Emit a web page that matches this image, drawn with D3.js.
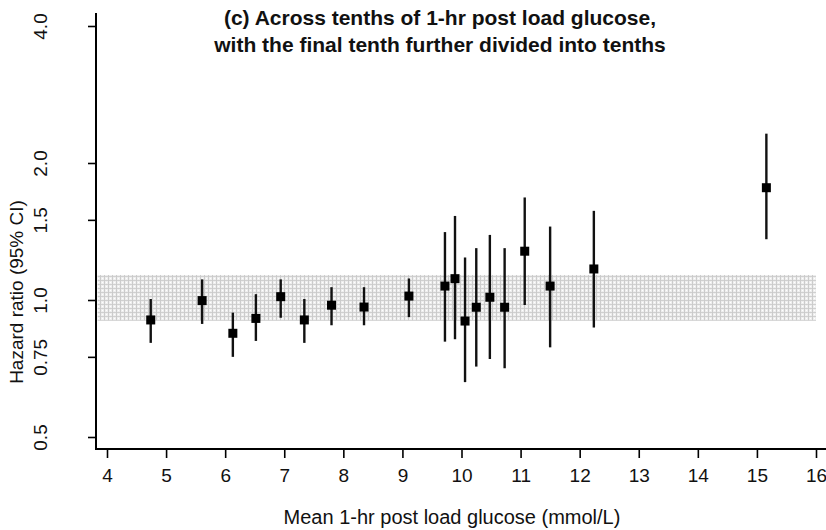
<!DOCTYPE html>
<html>
<head>
<meta charset="utf-8">
<script src="https://cdn.jsdelivr.net/npm/d3@7"></script>
<style>
  body { margin: 0; background: #fff; }
  svg text { font-family: "Liberation Sans", Arial, sans-serif; fill: #111; }
</style>
</head>
<body>
<svg id="chart" width="826" height="530"></svg>
<script>
"use strict";

// mean 1-hr glucose per group (mmol/L)
const glucose = [4.74, 5.61, 6.13, 6.52, 6.94, 7.34, 7.80, 8.35, 9.11,
                 9.72, 9.89, 10.06, 10.25, 10.48, 10.73, 11.07, 11.50, 12.24, 15.16];
const hazard  = [0.904, 0.997, 0.845, 0.911, 1.017, 0.904, 0.974, 0.965, 1.02,
                 1.073, 1.114, 0.899, 0.964, 1.014, 0.964, 1.28, 1.073, 1.17, 1.765];
const ciLow   = [0.805, 0.886, 0.75, 0.813, 0.914, 0.805, 0.88, 0.88, 0.917,
                 0.81, 0.82, 0.66, 0.714, 0.742, 0.708, 0.975, 0.787, 0.87, 1.36];
const ciHigh  = [1.005, 1.11, 0.938, 1.03, 1.11, 1.005, 1.067, 1.067, 1.115,
                 1.41, 1.53, 1.24, 1.30, 1.39, 1.30, 1.68, 1.45, 1.57, 2.32];

const xTicks = [4, 5, 6, 7, 8, 9, 10, 11, 12, 13, 14, 15, 16];
const yTicks = [0.5, 0.75, 1.0, 1.5, 2.0, 4.0];
const yTickLabels = ["0.5", "0.75", "1.0", "1.5", "2.0", "4.0"];

// shaded reference band
const bandHR = [0.90, 1.135];
const bandX = [3.84, 16.0];

const titleLines = ["(c) Across tenths of 1-hr post load glucose,",
                    "with the final tenth further divided into tenths"];

let svg = d3.select("#chart");

let x = d3.scaleLinear().domain([4, 16]).range([107, 816]);
let y = d3.scaleLog().domain([0.5, 4]).range([437, 26]);

// dotted grey texture for the band
let defs = svg.append("defs");
let pat = defs.append("pattern")
    .attr("id", "dots")
    .attr("patternUnits", "userSpaceOnUse")
    .attr("width", 4)
    .attr("height", 4);
pat.append("rect").attr("width", 4).attr("height", 4).attr("fill", "#eeeeee");
pat.append("rect").attr("x", 0).attr("y", 0).attr("width", 4).attr("height", 1).attr("fill", "#d0d0d0");
pat.append("rect").attr("x", 0).attr("y", 0).attr("width", 1).attr("height", 4).attr("fill", "#cccccc");
pat.append("rect").attr("x", 2).attr("y", 2).attr("width", 1).attr("height", 1).attr("fill", "#ffffff");

svg.append("rect")
    .attr("x", x(bandX[0]))
    .attr("y", y(bandHR[1]))
    .attr("width", x(bandX[1]) - x(bandX[0]))
    .attr("height", y(bandHR[0]) - y(bandHR[1]))
    .attr("fill", "url(#dots)");

// axes frame
svg.append("line")
    .attr("x1", 96).attr("x2", 96).attr("y1", 13).attr("y2", 449.5)
    .attr("stroke", "#000").attr("stroke-width", 2);
svg.append("line")
    .attr("x1", 95).attr("x2", 826).attr("y1", 449).attr("y2", 449)
    .attr("stroke", "#000").attr("stroke-width", 2);

// y axis
let yAxis = svg.append("g")
    .attr("transform", "translate(96,0)")
    .call(d3.axisLeft(y).tickValues(yTicks).tickSize(8).tickFormat((d, i) => yTickLabels[i]));
yAxis.select(".domain").remove();
yAxis.selectAll(".tick line").attr("stroke", "#000").attr("stroke-width", 1.6);
yAxis.selectAll(".tick text")
    .attr("x", 0).attr("y", 0).attr("dy", 0)
    .attr("text-anchor", "middle")
    .attr("transform", "translate(-49,0) rotate(-90)")
    .style("font-size", "19px")
    .style("font-family", "Liberation Sans, Arial, sans-serif")
    .attr("fill", "#111");

// x axis
let xAxis = svg.append("g")
    .attr("transform", "translate(0,450)")
    .call(d3.axisBottom(x).tickValues(xTicks).tickSize(8).tickFormat(d3.format("d")));
xAxis.select(".domain").remove();
xAxis.selectAll(".tick line").attr("stroke", "#000").attr("stroke-width", 1.6);
xAxis.selectAll(".tick text")
    .attr("y", 19)
    .style("font-size", "19px")
    .style("font-family", "Liberation Sans, Arial, sans-serif")
    .attr("fill", "#111");

// error bars
let pts = glucose.map((g, i) => ({g: g, hr: hazard[i], lo: ciLow[i], hi: ciHigh[i]}));

svg.selectAll(".ci")
    .data(pts)
    .enter().append("line")
    .attr("class", "ci")
    .attr("x1", d => x(d.g)).attr("x2", d => x(d.g))
    .attr("y1", d => y(d.hi)).attr("y2", d => y(d.lo))
    .attr("stroke", "#111")
    .attr("stroke-width", 2.4);

svg.selectAll(".pt")
    .data(pts)
    .enter().append("rect")
    .attr("class", "pt")
    .attr("x", d => x(d.g) - 4.5)
    .attr("y", d => y(d.hr) - 4.5)
    .attr("width", 9)
    .attr("height", 9)
    .attr("fill", "#000");

// title
svg.selectAll(".title")
    .data(titleLines)
    .enter().append("text")
    .attr("class", "title")
    .attr("x", 440)
    .attr("y", (d, i) => 25 + i * 27)
    .attr("text-anchor", "middle")
    .style("font-size", "21px")
    .style("font-weight", "bold")
    .text(d => d);

// axis titles
svg.append("text")
    .attr("transform", "translate(23,292) rotate(-90)")
    .attr("text-anchor", "middle")
    .style("font-size", "19px")
    .text("Hazard ratio (95% CI)");

svg.append("text")
    .attr("x", 452)
    .attr("y", 524)
    .attr("text-anchor", "middle")
    .style("font-size", "20px")
    .text("Mean 1-hr post load glucose (mmol/L)");
</script>
</body>
</html>
